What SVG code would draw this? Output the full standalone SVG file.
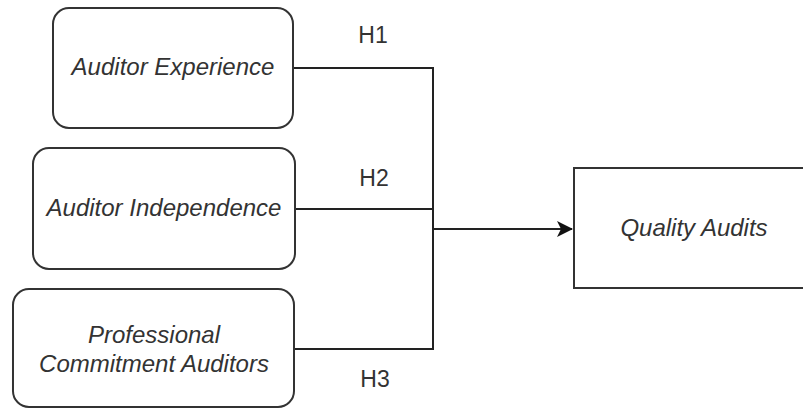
<svg xmlns="http://www.w3.org/2000/svg" width="803" height="408" viewBox="0 0 803 408">
<style>
.box{fill:#fff;stroke:#333;stroke-width:2}
.lbl{font-family:"Liberation Sans",Arial,sans-serif;font-size:24px;font-style:italic;fill:#333;text-anchor:middle}
.h{font-family:"Liberation Sans",Arial,sans-serif;font-size:23px;fill:#333;text-anchor:middle}
.ln{fill:none;stroke:#222;stroke-width:2}
</style>
<defs>
<marker id="arr" viewBox="0 0 16 16" refX="15" refY="8" markerWidth="16" markerHeight="16" markerUnits="userSpaceOnUse" orient="auto">
<path d="M0,0 L16,8 L0,16 L4,8 Z" fill="#111"/>
</marker>
</defs>
<rect width="803" height="408" fill="#fff"/>
<g id="connectors">
<path class="ln" d="M293,68 H433 V349 H294"/>
<path class="ln" d="M295,209 H433"/>
<path class="ln" d="M433,229 H572" marker-end="url(#arr)"/>
<text class="h" x="373" y="43">H1</text>
<text class="h" x="374" y="186">H2</text>
<text class="h" x="375" y="387">H3</text>
</g>
<g id="n1">
<rect class="box" x="53" y="8" width="240" height="120" rx="16"/>
<text class="lbl" x="173" y="75">Auditor Experience</text>
</g>
<g id="n2">
<rect class="box" x="33" y="148" width="262" height="121" rx="16"/>
<text class="lbl" x="164" y="216">Auditor Independence</text>
</g>
<g id="n3">
<rect class="box" x="13" y="289" width="281" height="118" rx="16"/>
<text class="lbl" x="154" y="343">Professional</text>
<text class="lbl" x="154" y="372">Commitment Auditors</text>
</g>
<g id="n4">
<rect class="box" x="574" y="168" width="240" height="120"/>
<text class="lbl" x="694" y="236">Quality Audits</text>
</g>
</svg>
